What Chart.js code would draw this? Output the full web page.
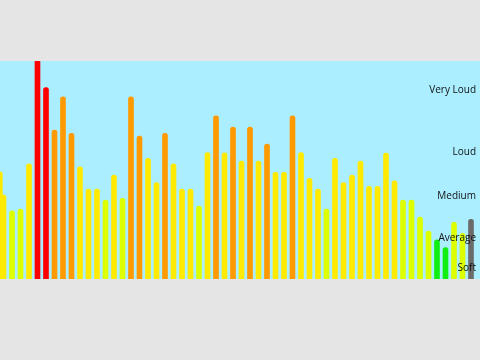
<!DOCTYPE html>
<html>
<head>
<meta charset="utf-8">
<script src="https://cdn.jsdelivr.net/npm/chart.js@4"></script>
<style>
  html, body { margin: 0; padding: 0; background: #e5e5e5; width: 480px; height: 360px; overflow: hidden; }
  #wrap { position: absolute; left: 0; top: 61px; width: 480px; height: 218px; }
  #meter { background: #aaeeff; display: block; }
</style>
</head>
<body>
<div id="wrap"><canvas id="meter" width="480" height="218"></canvas></div>
<script>
// loudness levels, oldest to newest (0-100)
const levels = [
  38.5, 31.3, 32.1, 52.8, 110, 87.8, 68.3, 83.6, 66.8, 51.4,
  41.3, 41.3, 36.2, 47.7, 37.0, 83.6, 65.6, 55.4, 44.2, 66.8,
  52.8, 41.3, 41.3, 33.5, 58.0, 74.8, 57.9, 69.7, 54.1, 69.7,
  54.1, 61.9, 48.9, 48.9, 74.8, 58.0, 46.2, 41.3, 32.1, 55.4,
  44.2, 47.7, 54.1, 42.5, 42.5, 57.8, 45.0, 36.2, 36.2, 28.4,
  22.0, 18.0, 14.4, 26.0, 21.0, 27.4
];
// bar scrolling out at the left edge
const prevLevel = [49.2];
const prevPos = [-0.43];

const levelNames = ['Soft', 'Average', 'Medium', 'Loud', 'Very Loud'];
const levelMarks = [4.9, 18.7, 37.8, 58.4, 86.7];

const palette = ['#11ee11', '#ddff00', '#ffea00', '#ff9900', '#ff0000'];

function colorFor(v) {
  let k = 0;
  for (let i = 1; i < levelMarks.length; i++) if (v >= levelMarks[i]) k = i;
  return palette[k];
}

const mainColors = levels.map((v, i) => i === levels.length - 1 ? '#6b6b6b' : colorFor(v));

const barStyle = {
  barThickness: 5,
  borderRadius: { topLeft: 2.5, topRight: 2.5 },
  borderSkipped: 'bottom',
  borderWidth: 0,
  grouped: false
};

new Chart(document.getElementById('meter'), {
  type: 'bar',
  data: {
    datasets: [
      Object.assign({
        label: 'level',
        data: levels.map((v, i) => ({ x: i, y: v })),
        backgroundColor: mainColors
      }, barStyle),
      Object.assign({
        label: 'previous',
        data: prevLevel.map((v, i) => ({ x: prevPos[i], y: v })),
        backgroundColor: prevLevel.map(colorFor)
      }, barStyle)
    ]
  },
  options: {
    responsive: false,
    animation: false,
    layout: { padding: 0 },
    plugins: { legend: { display: false }, tooltip: { enabled: false } },
    scales: {
      x: {
        type: 'linear',
        display: false,
        offset: false,
        grid: { offset: false },
        min: -0.41,
        max: 56.06
      },
      y: {
        position: 'right',
        min: 0,
        max: 100,
        grid: { display: false },
        border: { display: false },
        afterBuildTicks: axis => { axis.ticks = levelMarks.map(v => ({ value: v })); },
        afterFit: axis => {
          // labels sit inside the plot, so the axis takes no room
          axis.width = 0;
          axis.paddingTop = 0;
          axis.paddingBottom = 0;
        },
        ticks: {
          z: 1,
          mirror: true,
          padding: -4,
          color: '#111',
          font: { family: 'Open Sans', size: 10 },
          callback: v => levelNames[levelMarks.indexOf(v)]
        }
      }
    }
  }
});
</script>
</body>
</html>
